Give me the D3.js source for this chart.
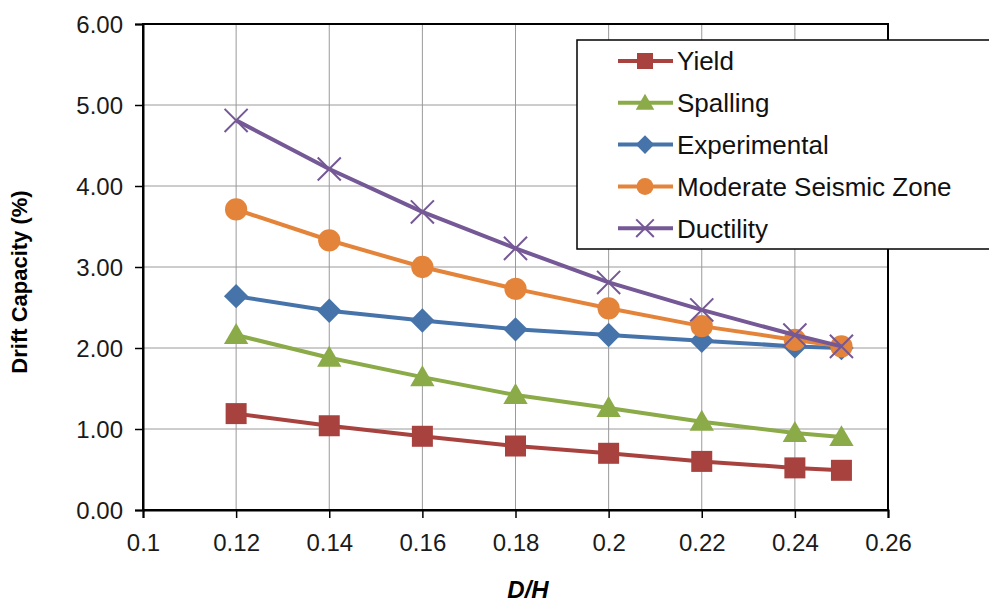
<!DOCTYPE html>
<html>
<head>
<meta charset="utf-8">
<script src="https://cdn.jsdelivr.net/npm/d3@7"></script>
<style>
  html, body { margin: 0; padding: 0; background: #fff; }
  svg { display: block; font-family: Arial, "Liberation Sans", sans-serif; }
</style>
</head>
<body>
<svg id="chart" width="989" height="602"></svg>
<script>
// D/H ratios along the x axis
const ratios = [0.12, 0.14, 0.16, 0.18, 0.2, 0.22, 0.24, 0.25];

// Drift capacity (%) for each limit state
const yieldVals        = [1.19, 1.04, 0.91, 0.79, 0.70, 0.60, 0.52, 0.49];
const spallingVals     = [2.16, 1.88, 1.64, 1.42, 1.26, 1.09, 0.95, 0.90];
const experimentalVals = [2.64, 2.46, 2.34, 2.23, 2.16, 2.09, 2.02, 2.00];
const moderateVals     = [3.71, 3.33, 3.00, 2.73, 2.49, 2.27, 2.10, 2.02];
const ductilityVals    = [4.81, 4.21, 3.68, 3.23, 2.81, 2.47, 2.16, 2.02];

const seriesNames = ["Yield", "Spalling", "Experimental", "Moderate Seismic Zone", "Ductility"];

const xTicks = [0.1, 0.12, 0.14, 0.16, 0.18, 0.2, 0.22, 0.24, 0.26];
const yTicks = [0, 1, 2, 3, 4, 5, 6];

const series = [
  { name: seriesNames[0], values: yieldVals,        color: "#A8423F", marker: "square" },
  { name: seriesNames[1], values: spallingVals,     color: "#8BAA48", marker: "triangle" },
  { name: seriesNames[2], values: experimentalVals, color: "#4674AA", marker: "diamond" },
  { name: seriesNames[3], values: moderateVals,     color: "#E4843A", marker: "circle" },
  { name: seriesNames[4], values: ductilityVals,    color: "#755896", marker: "cross" }
];

const svg = d3.select("#chart");
const m = { left: 143, top: 24, right: 989 - 888, bottom: 602 - 510 };
const W = 989 - m.left - m.right;
const H = 602 - m.top - m.bottom;

const x = d3.scaleLinear().domain([0.1, 0.26]).range([0, W]);
const y = d3.scaleLinear().domain([0, 6]).range([H, 0]);

const g = svg.append("g").attr("transform", `translate(${m.left},${m.top})`);

// grid
g.append("g").selectAll("line").data(xTicks.slice(1, -1)).join("line")
  .attr("x1", d => x(d)).attr("x2", d => x(d)).attr("y1", 0).attr("y2", H)
  .attr("stroke", "#9a9a9a").attr("stroke-width", 1);
g.append("g").selectAll("line").data(yTicks.slice(1, -1)).join("line")
  .attr("x1", 0).attr("x2", W).attr("y1", d => y(d)).attr("y2", d => y(d))
  .attr("stroke", "#9a9a9a").attr("stroke-width", 1);

// plot frame
g.append("rect").attr("x", 0).attr("y", 0).attr("width", W).attr("height", H)
  .attr("fill", "none").attr("stroke", "#000").attr("stroke-width", 2);

// axes
const xAxis = g.append("g").attr("transform", `translate(0,${H})`)
  .call(d3.axisBottom(x).tickValues(xTicks).tickFormat(d => String(+d.toFixed(2))).tickSize(8).tickPadding(16));
const yAxis = g.append("g")
  .call(d3.axisLeft(y).tickValues(yTicks).tickFormat(d3.format(".2f")).tickSize(8).tickPadding(12));
[xAxis, yAxis].forEach(a => {
  a.select(".domain").attr("stroke", "#000").attr("stroke-width", 2);
  a.selectAll(".tick line").attr("stroke", "#000").attr("stroke-width", 1.5);
  a.selectAll(".tick text").attr("fill", "#1a1a1a").style("font-size", "24px")
    .style("font-family", "Arial, 'Liberation Sans', sans-serif");
});
yAxis.selectAll(".tick text").attr("dy", "0.36em");

// axis titles
svg.append("text")
  .attr("transform", `translate(27,282) rotate(-90)`)
  .attr("text-anchor", "middle")
  .style("font-size", "22px").style("font-weight", "bold")
  .text("Drift Capacity (%)");
svg.append("text")
  .attr("x", 528).attr("y", 598)
  .attr("text-anchor", "middle")
  .style("font-size", "24px").style("font-weight", "bold").style("font-style", "italic")
  .text("D/H");

// markers
function drawMarker(sel, type, color, s) {
  if (type === "square") {
    sel.append("rect").attr("x", -s / 2).attr("y", -s / 2).attr("width", s).attr("height", s).attr("fill", color);
  } else if (type === "triangle") {
    const h = s * 0.95;
    sel.append("path").attr("d", `M0,${-h * 0.6}L${s * 0.58},${h * 0.45}L${-s * 0.58},${h * 0.45}Z`).attr("fill", color);
  } else if (type === "diamond") {
    const r = s * 0.58;
    sel.append("path").attr("d", `M0,${-r}L${r},0L0,${r}L${-r},0Z`).attr("fill", color);
  } else if (type === "circle") {
    sel.append("circle").attr("r", s * 0.53).attr("fill", color);
  } else if (type === "cross") {
    const r = s * 0.55;
    sel.append("path").attr("d", `M${-r},${-r}L${r},${r}M${-r},${r}L${r},${-r}`)
      .attr("stroke", color).attr("stroke-width", 2).attr("fill", "none");
  }
}

const line = d3.line().x((d, i) => x(ratios[i])).y(d => y(d));

series.forEach(s => {
  const sg = g.append("g");
  sg.append("path").datum(s.values).attr("d", line)
    .attr("fill", "none").attr("stroke", s.color).attr("stroke-width", 4).attr("stroke-linejoin", "round");
  s.values.forEach((v, i) => {
    const mg = sg.append("g").attr("transform", `translate(${x(ratios[i])},${y(v)})`);
    drawMarker(mg, s.marker, s.color, 21);
  });
});

// legend
const lg = svg.append("g");
lg.append("rect").attr("x", 577).attr("y", 40).attr("width", 430).attr("height", 209)
  .attr("fill", "#fff").attr("stroke", "#000").attr("stroke-width", 1.5);
series.forEach((s, i) => {
  const ly = 61 + i * 41.8;
  const row = lg.append("g").attr("transform", `translate(0,${ly})`);
  row.append("line").attr("x1", 618).attr("x2", 673).attr("y1", 0).attr("y2", 0)
    .attr("stroke", s.color).attr("stroke-width", 4);
  const mg = row.append("g").attr("transform", "translate(645,0)");
  drawMarker(mg, s.marker, s.color, 16);
  row.append("text").attr("x", 677).attr("y", 0).attr("dy", "0.36em")
    .style("font-size", "26px").attr("fill", "#111").text(s.name);
});
</script>
</body>
</html>
